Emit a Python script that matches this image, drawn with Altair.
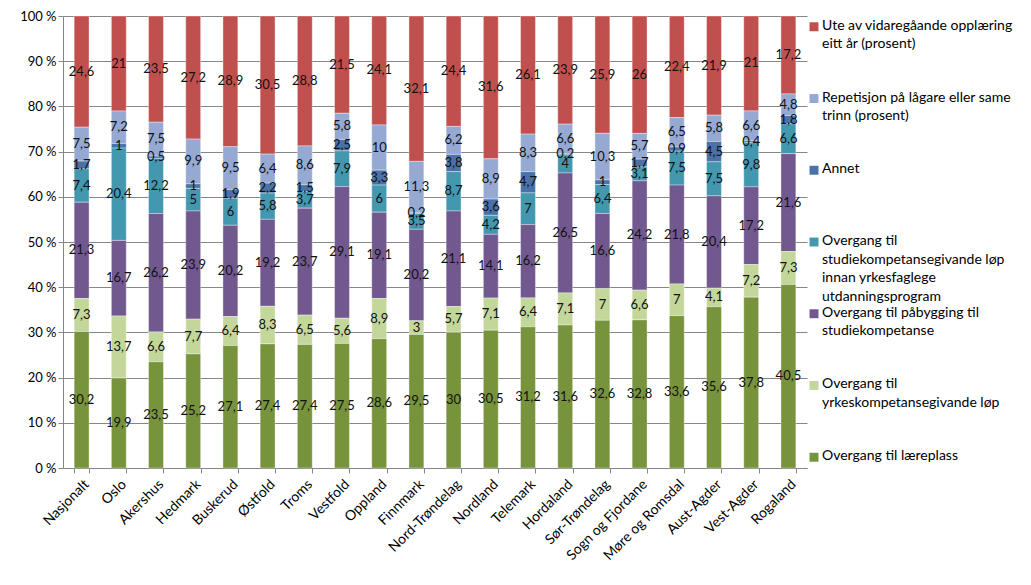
import altair as alt
import pandas as pd

categories = ["Nasjonalt", "Oslo", "Akershus", "Hedmark", "Buskerud", "Østfold", "Troms",
              "Vestfold", "Oppland", "Finnmark", "Nord-Trøndelag", "Nordland", "Telemark",
              "Hordaland", "Sør-Trøndelag", "Sogn og Fjordane", "Møre og Romsdal",
              "Aust-Agder", "Vest-Agder", "Rogaland"]

# series listed from top of legend (top of stack) to bottom
series = ["Ute av vidaregåande opplæring eitt år (prosent)",
          "Repetisjon på lågare eller same trinn (prosent)",
          "Annet",
          "Overgang til studiekompetansegivande løp innan yrkesfaglege utdanningsprogram",
          "Overgang til påbygging til studiekompetanse",
          "Overgang til yrkeskompetansegivande løp",
          "Overgang til læreplass"]
legend_text = ["Ute av vidaregåande opplæring\neitt år (prosent)",
               "Repetisjon på lågare eller same\ntrinn (prosent)",
               "Annet",
               "Overgang til\nstudiekompetansegivande løp\ninnan yrkesfaglege\nutdanningsprogram",
               "Overgang til påbygging til\nstudiekompetanse",
               "Overgang til\nyrkeskompetansegivande løp",
               "Overgang til læreplass"]
colors = ["#C0504D", "#95A9D3", "#4A72A9", "#4398AF", "#71588F", "#C4D79B", "#77933C"]

ute = [24.6, 21, 23.5, 27.2, 28.9, 30.5, 28.8, 21.5, 24.1, 32.1, 24.4, 31.6, 26.1, 23.9, 25.9, 26, 22.4, 21.9, 21, 17.2]
repetisjon = [7.5, 7.2, 7.5, 9.9, 9.5, 6.4, 8.6, 5.8, 10, 11.3, 6.2, 8.9, 8.3, 6.6, 10.3, 5.7, 6.5, 5.8, 6.6, 4.8]
annet = [1.7, 1, 0.5, 1, 1.9, 2.2, 1.5, 2.5, 3.3, 0.2, 3.8, 3.6, 4.7, 0.2, 1, 1.7, 0.9, 4.5, 0.4, 1.8]
studiekomp_yrkesfag = [7.4, 20.4, 12.2, 5, 6, 5.8, 3.7, 7.9, 6, 3.5, 8.7, 4.2, 7, 4, 6.4, 3.1, 7.5, 7.5, 9.8, 6.6]
pabygging = [21.3, 16.7, 26.2, 23.9, 20.2, 19.2, 23.7, 29.1, 19.1, 20.2, 21.1, 14.1, 16.2, 26.5, 16.6, 24.2, 21.8, 20.4, 17.2, 21.6]
yrkeskomp = [7.3, 13.7, 6.6, 7.7, 6.4, 8.3, 6.5, 5.6, 8.9, 3, 5.7, 7.1, 6.4, 7.1, 7, 6.6, 7, 4.1, 7.2, 7.3]
lareplass = [30.2, 19.9, 23.5, 25.2, 27.1, 27.4, 27.4, 27.5, 28.6, 29.5, 30, 30.5, 31.2, 31.6, 32.6, 32.8, 33.6, 35.6, 37.8, 40.5]

values = [ute, repetisjon, annet, studiekomp_yrkesfag, pabygging, yrkeskomp, lareplass]

rows = []
for si, (s, vals) in enumerate(zip(series, values)):
    for c, v in zip(categories, vals):
        rows.append({"cat": c, "series": s, "value": v,
                     "stackpos": len(series) - 1 - si,
                     "label": f"{v:g}".replace(".", ",")})
df = pd.DataFrame(rows)
leg_df = pd.DataFrame({"series": series, "text": legend_text})

FONT = "Lato"
H = 452
color_scale = alt.Scale(domain=series, range=colors)

x_enc = alt.X("cat:N", sort=categories,
              scale=alt.Scale(paddingInner=0.6, paddingOuter=0.3),
              axis=alt.Axis(title=None, labelAngle=-45, tickBand="extent", labelFontSize=14,
                            labelColor="#000000", labelFont=FONT, domainColor="#868686",
                            tickColor="#868686", tickSize=5, labelPadding=4))

bars = alt.Chart(df).mark_bar(stroke="#ffffff", strokeWidth=0.6, strokeOpacity=0.6).encode(
    x=x_enc,
    y=alt.Y("value:Q", stack="normalize", scale=alt.Scale(domain=[0, 1]),
            axis=alt.Axis(title=None, values=[i / 10 for i in range(11)],
                          labelExpr="round(datum.value*100) + ' %'", grid=True,
                          gridColor="#868686", domainColor="#868686", tickColor="#868686",
                          tickSize=5, labelFontSize=13, labelFont=FONT, labelColor="#000000",
                          minExtent=53, maxExtent=53)),
    color=alt.Color("series:N", scale=color_scale, legend=None),
    order=alt.Order("stackpos:Q", sort="ascending"),
)

labels = alt.Chart(df).transform_stack(
    stack="value", groupby=["cat"], sort=[alt.SortField("stackpos", order="ascending")],
    as_=["y0", "y1"], offset="normalize"
).transform_calculate(mid="(datum.y0 + datum.y1) / 2").mark_text(
    font=FONT, fontSize=13, color="#111111"
).encode(
    x=alt.X("cat:N", sort=categories),
    y=alt.Y("mid:Q"),
    text="label:N",
)

main = alt.layer(bars, labels).properties(width=744, height=H)

leg_y = alt.Y("series:N", sort=series, scale=alt.Scale(type="point", padding=0.15), axis=None)
leg_sq = alt.Chart(leg_df).mark_square(size=80, opacity=1).encode(
    x=alt.value(7), y=leg_y,
    color=alt.Color("series:N", scale=color_scale, legend=None),
)
leg_txt = alt.Chart(leg_df).mark_text(
    font=FONT, fontSize=14, align="left", baseline="top", lineBreak="\n",
    lineHeight=18.5, dy=-8, color="#000000"
).encode(x=alt.value(15), y=leg_y, text="text:N")
legend = alt.layer(leg_sq, leg_txt).properties(width=195, height=H)

chart = alt.hconcat(main, legend, spacing=0).properties(
    padding={"left": 2, "right": 0, "top": 2, "bottom": 0}
).configure_view(stroke=None)

chart.save("out.html", embed_options={"renderer": "svg", "actions": False})
